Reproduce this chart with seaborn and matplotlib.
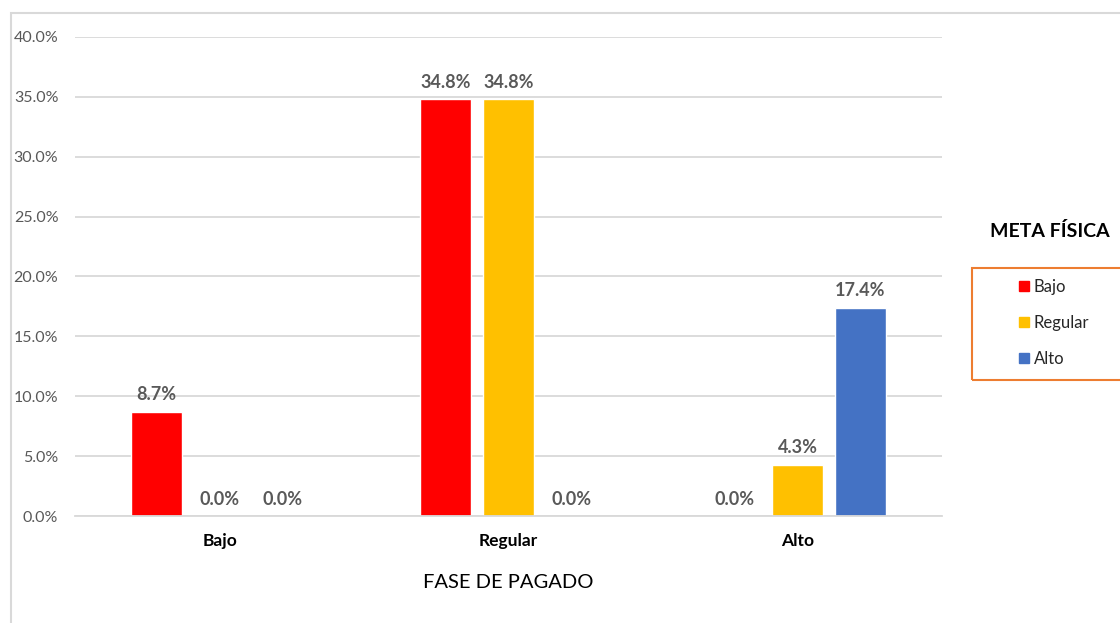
import pandas as pd
import matplotlib.pyplot as plt
import matplotlib.patches as mpatches
import seaborn as sns

sns.set_theme(style="white")
plt.rcParams["font.family"] = ["Lato", "DejaVu Sans"]

FASES = ["Bajo", "Regular", "Alto"]
METAS = ["Bajo", "Regular", "Alto"]
BAJO = [8.7, 34.8, 0.0]
REGULAR = [0.0, 34.8, 4.3]
ALTO = [0.0, 0.0, 17.4]

COLORES = {"Bajo": "#FF0000", "Regular": "#FFC000", "Alto": "#4472C4"}
GRIS = "#D9D9D9"
TEXTO = "#595959"

df = pd.DataFrame({
    "fase": FASES * 3,
    "meta": [m for m in METAS for _ in FASES],
    "valor": BAJO + REGULAR + ALTO,
})

fig = plt.figure(figsize=(11.2, 6.23), dpi=100)
ax = fig.add_axes([75 / 1120, 1 - 516 / 623, (942 - 75) / 1120, (516 - 37) / 623])

sns.barplot(data=df, x="fase", y="valor", hue="meta", order=FASES, hue_order=METAS,
            palette=COLORES, saturation=1, width=0.654, gap=0.2, legend=False, ax=ax)

# etiquetas de datos
for cont in ax.containers:
    for barra in cont:
        h = barra.get_height()
        ax.annotate(f"{h:.1f}%", (barra.get_x() + barra.get_width() / 2, h),
                    xytext=(0, 6), textcoords="offset points", ha="center", va="bottom",
                    fontsize=13, fontweight="bold", color=TEXTO)

ax.set_xlim(-0.5, 2.5)
ax.set_ylim(0, 40)
ax.set_yticks(range(0, 41, 5))
ax.set_yticklabels([f"{v:.1f}%" for v in range(0, 41, 5)], fontsize=11.5, color=TEXTO)
ax.yaxis.grid(True, color=GRIS, linewidth=1.3)
ax.set_axisbelow(True)
ax.tick_params(axis="y", length=0, pad=12)
ax.tick_params(axis="x", length=0, pad=12)
for lbl in ax.get_xticklabels():
    lbl.set_fontweight("bold")
    lbl.set_fontsize(12.5)
    lbl.set_color("black")
for lado in ["top", "right", "left"]:
    ax.spines[lado].set_visible(False)
ax.spines["bottom"].set_color(GRIS)
ax.spines["bottom"].set_linewidth(1.3)
ax.set_ylabel("")
ax.set_xlabel("FASE DE PAGADO", fontsize=14.5, color="black", labelpad=18)

# borde del gráfico (recortado a la derecha y abajo)
fig.patches.append(mpatches.Rectangle((11 / 1120, -0.1), 1.2, 1 - 13 / 623 + 0.1,
                                      transform=fig.transFigure, fill=False,
                                      edgecolor=GRIS, linewidth=1.5))

# leyenda
fig.text(1050 / 1120, 1 - 231 / 623, "META FÍSICA", ha="center", va="center",
         fontsize=14, fontweight="bold", color="black")
fig.patches.append(mpatches.Rectangle((972 / 1120, 1 - 380 / 623), 0.2, 112 / 623,
                                      transform=fig.transFigure, fill=False,
                                      edgecolor="#ED7D31", linewidth=1.5))
handles = [mpatches.Patch(color=COLORES[m], label=m) for m in METAS]
fig.legend(handles=handles, loc="upper left", bbox_to_anchor=(1012 / 1120, 1 - 272 / 623),
           frameon=False, fontsize=12, handlelength=0.6, handleheight=0.6,
           handletextpad=0.3, labelspacing=1.2, borderaxespad=0)

fig.savefig("out.png", dpi=100)
